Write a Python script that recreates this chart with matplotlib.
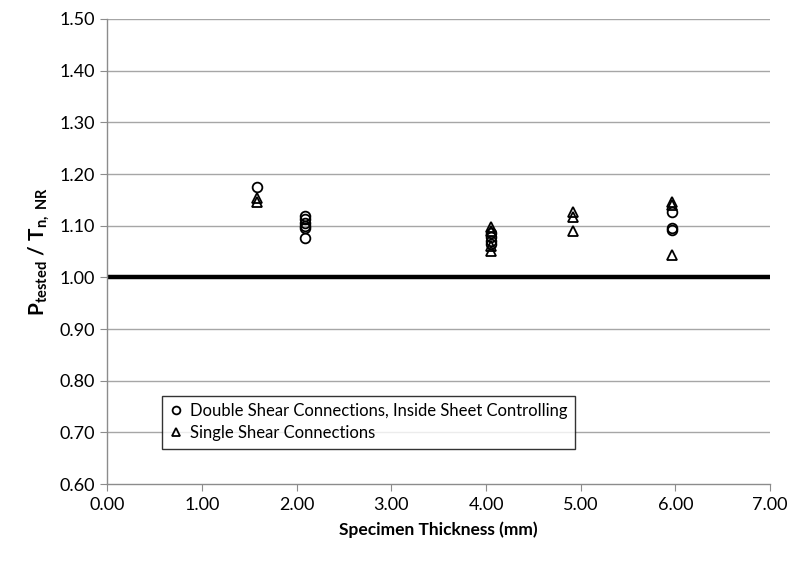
import matplotlib
matplotlib.use("Agg")
import matplotlib.pyplot as plt
from matplotlib.ticker import FormatStrFormatter, MultipleLocator

plt.rcParams['font.family'] = ['Lato', 'DejaVu Sans']
plt.rcParams['mathtext.fontset'] = 'custom'
plt.rcParams['mathtext.rm'] = 'Lato'
plt.rcParams['mathtext.bf'] = 'Lato:bold'
plt.rcParams['mathtext.it'] = 'Lato:italic'

# Double shear connections, inside sheet controlling
double_x = [1.58, 2.09, 2.09, 2.09, 2.09, 2.09, 2.09, 4.05, 4.05, 4.05, 4.05, 5.96, 5.96, 5.96]
double_y = [1.175, 1.118, 1.112, 1.106, 1.100, 1.095, 1.076, 1.085, 1.078, 1.070, 1.065, 1.127, 1.096, 1.092]

# Single shear connections
single_x = [1.58, 1.58, 4.05, 4.05, 4.05, 4.05, 4.92, 4.92, 4.92, 5.96, 5.96, 5.96]
single_y = [1.153, 1.145, 1.098, 1.090, 1.060, 1.051, 1.127, 1.117, 1.090, 1.146, 1.140, 1.043]

fig = plt.figure(figsize=(7.94, 5.73), dpi=100)
ax = fig.add_axes([0.135, 0.155, 0.835, 0.812])

for y in [0.7, 0.8, 0.9, 1.1, 1.2, 1.3, 1.4, 1.5]:
    ax.axhline(y, color='#a6a6a6', lw=1.0, zorder=1)
ax.axhline(1.0, color='black', lw=3.2, zorder=2)

ax.plot(double_x, double_y, linestyle='none', marker='o', markersize=7,
        markerfacecolor='none', markeredgecolor='black', markeredgewidth=1.3,
        label='Double Shear Connections, Inside Sheet Controlling', zorder=3)
ax.plot(single_x, single_y, linestyle='none', marker='^', markersize=7,
        markerfacecolor='none', markeredgecolor='black', markeredgewidth=1.3,
        label='Single Shear Connections', zorder=3)

ax.set_xlim(0, 7)
ax.set_ylim(0.6, 1.5)
ax.xaxis.set_major_locator(MultipleLocator(1))
ax.yaxis.set_major_locator(MultipleLocator(0.1))
ax.xaxis.set_major_formatter(FormatStrFormatter('%.2f'))
ax.yaxis.set_major_formatter(FormatStrFormatter('%.2f'))

for s in ['top', 'right']:
    ax.spines[s].set_visible(False)
for s in ['left', 'bottom']:
    ax.spines[s].set_color('#8c8c8c')
    ax.spines[s].set_linewidth(1.0)
ax.tick_params(axis='both', direction='out', length=5, color='#8c8c8c',
               labelsize=13, labelcolor='black', pad=4)

ax.set_xlabel('Specimen Thickness (mm)', fontsize=12.5, fontweight='bold', labelpad=6)
ax.set_ylabel(r'$\mathbf{P_{tested}\ /\ T_{n,\ NR}}$', fontsize=15, labelpad=6)

leg = ax.legend(loc='upper left', bbox_to_anchor=(0.083, 0.19),
                fontsize=12, frameon=True, fancybox=False,
                edgecolor='black', borderaxespad=0, handlelength=0.8,
                handletextpad=0.4, markerscale=0.8, labelspacing=0.35,
                borderpad=0.45)
leg.get_frame().set_linewidth(1.0)

fig.savefig('out.png', dpi=100)
